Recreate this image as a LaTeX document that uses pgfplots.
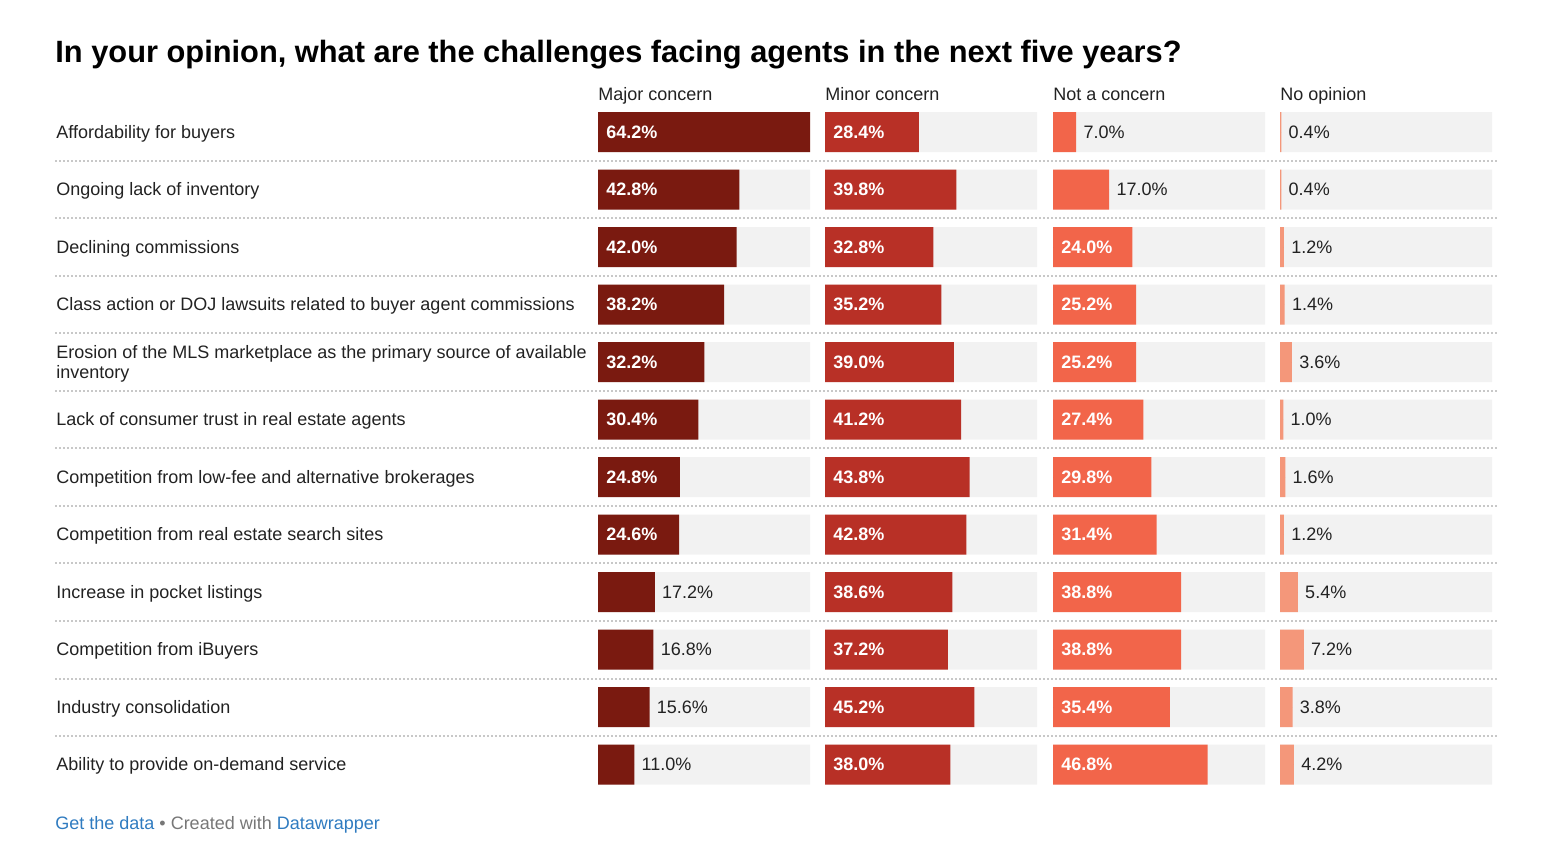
\documentclass[border=0pt]{standalone}
\usepackage{pgfplots}
\usepackage{pgfplotstable}
\pgfplotsset{compat=1.18}
\usepackage{fontspec}
\setmainfont{Liberation Sans}

\definecolor{cmajor}{HTML}{7A1A10}
\definecolor{cminor}{HTML}{B83026}
\definecolor{cnot}{HTML}{F2654A}
\definecolor{cnoop}{HTML}{F4977A}
\definecolor{track}{HTML}{F2F2F2}
\definecolor{ink}{HTML}{222222}
\definecolor{sep}{HTML}{C8C8C8}
\definecolor{dwblue}{HTML}{2F7BC0}
\definecolor{dwgray}{HTML}{777777}

\newcommand{\bodyfont}{\fontsize{9}{10}\selectfont}

% share of respondents per challenge (percent)
\pgfplotstableread{
row major minor notc noop track
0  64.2 28.4  7.0 0.4 64.2
1  42.8 39.8 17.0 0.4 64.2
2  42.0 32.8 24.0 1.2 64.2
3  38.2 35.2 25.2 1.4 64.2
4  32.2 39.0 25.2 3.6 64.2
5  30.4 41.2 27.4 1.0 64.2
6  24.8 43.8 29.8 1.6 64.2
7  24.6 42.8 31.4 1.2 64.2
8  17.2 38.6 38.8 5.4 64.2
9  16.8 37.2 38.8 7.2 64.2
10 15.6 45.2 35.4 3.8 64.2
11 11.0 38.0 46.8 4.2 64.2
}\datatable

\pgfplotsset{
  /pgf/number format/assume math mode=true,
  panel/.style={
    anchor=north west, width=106pt, height=345pt, scale only axis,
    xmin=0, xmax=64.2, ymin=-0.5, ymax=11.5, y dir=reverse,
    hide axis, clip=false,
  },
  barplot/.style={xbar, bar width=20pt, bar shift=0pt, draw=none, fill=#1},
  pctlabel/.style={
    only marks, mark=*, mark size=0pt, mark options={draw=none, fill=none},
    point meta=explicit,
    nodes near coords={\pgfmathprintnumber[fixed, fixed zerofill, precision=1]{\pgfplotspointmeta}\%},
  },
  inlabel/.style={pctlabel,
    restrict expr to domain={\thisrow{#1}}{20:1000},
    every node near coord/.style={anchor=west, inner sep=0pt, xshift=4pt, text=white, font=\bodyfont\bfseries}},
  outlabel/.style={pctlabel,
    restrict expr to domain={\thisrow{#1}}{0:20},
    every node near coord/.style={anchor=west, inner sep=0pt, xshift=3.5pt, text=ink, font=\bodyfont}},
}

\newcommand{\panel}[3]{%
  \begin{axis}[panel, at={(#1,-51.625pt)}]
    \addplot[barplot=track] table[x=track, y=row]{\datatable};
    \addplot[barplot=#3] table[x=#2, y=row]{\datatable};
    \addplot[inlabel=#2] table[x expr=0, y=row, meta=#2]{\datatable};
    \addplot[outlabel=#2] table[x=#2, y=row, meta=#2]{\datatable};
  \end{axis}}

\begin{document}
\begin{tikzpicture}
  \path[use as bounding box] (0,0) rectangle (771pt,-430pt);

  % title
  \node[anchor=base west, inner sep=0pt, text=black, font=\fontsize{15.4}{18}\selectfont\bfseries]
    at (27.5pt,-31.2pt) {In your opinion, what are the challenges facing agents in the next five years?};

  % row separators
  \foreach \k in {0,...,10}
    \draw[sep, line width=1pt, dash pattern=on 1pt off 1pt]
      (27.5pt,{-(161+57.5*\k)/2*1pt}) -- (749.5pt,{-(161+57.5*\k)/2*1pt});

  % panels
  \panel{299pt}{major}{cmajor}
  \panel{412.5pt}{minor}{cminor}
  \panel{526.5pt}{notc}{cnot}
  \panel{640pt}{noop}{cnoop}

  % column headers
  \foreach \x/\t in {299/Major concern, 412.5/Minor concern, 526.5/Not a concern, 640/No opinion}
    \node[anchor=base west, inner sep=0pt, text=ink, font=\bodyfont]
      at (\x pt,-50.3pt) {\t};

  % row labels
  \foreach \t [count=\i from 0] in {
      Affordability for buyers,
      Ongoing lack of inventory,
      Declining commissions,
      Class action or DOJ lawsuits related to buyer agent commissions,
      {Erosion of the MLS marketplace as the primary source of available\\inventory},
      Lack of consumer trust in real estate agents,
      Competition from low-fee and alternative brokerages,
      Competition from real estate search sites,
      Increase in pocket listings,
      Competition from iBuyers,
      Industry consolidation,
      Ability to provide on-demand service}
    \node[anchor=west, inner sep=0pt, align=left, text=ink, font=\bodyfont]
      at (28pt,{-(132+57.5*\i)/2*1pt-0.8pt}) {\t};

  % footer
  \node[anchor=west, inner sep=0pt, font=\bodyfont]
    at (27.5pt,-412.5pt) {\textcolor{dwblue}{Get the data}\ \textcolor{dwgray}{\textbullet\ Created with}\ \textcolor{dwblue}{Datawrapper}};
\end{tikzpicture}
\end{document}
